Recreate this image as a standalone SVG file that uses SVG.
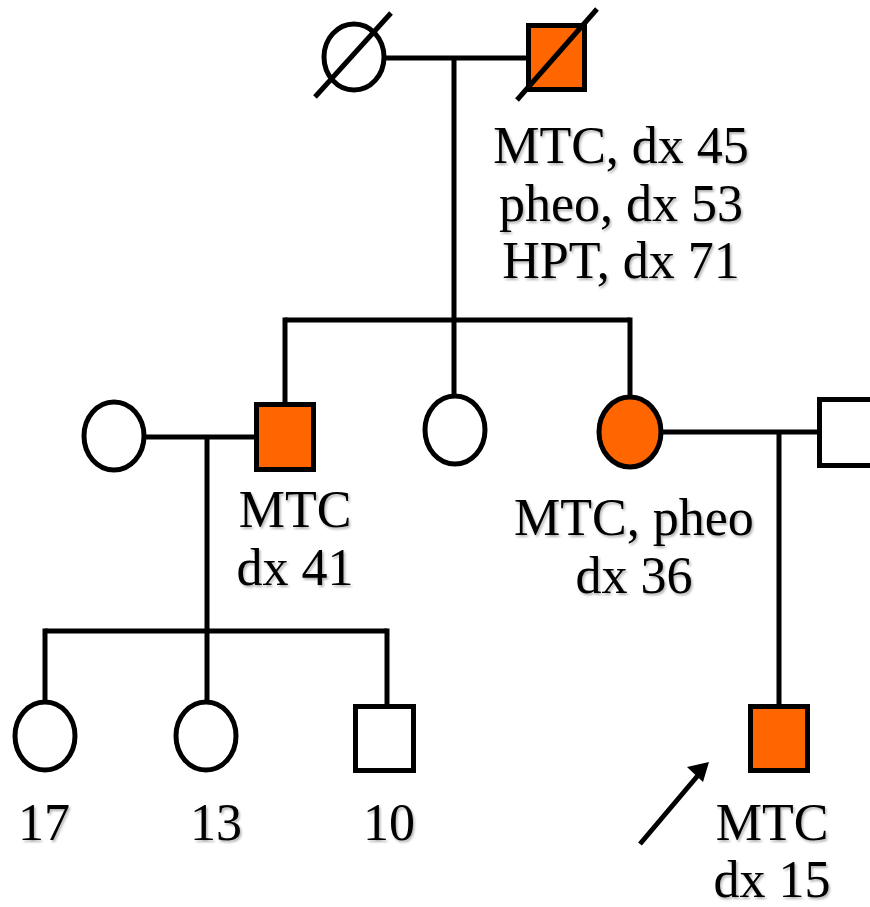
<svg xmlns="http://www.w3.org/2000/svg" width="870" height="907" viewBox="0 0 870 907">
<defs>
<filter id="sh" x="-10%" y="-10%" width="120%" height="130%">
<feDropShadow dx="1.5" dy="2" stdDeviation="1" flood-color="#000" flood-opacity="0.3"/>
</filter>
</defs>
<style>
.n{fill:#fff;stroke:#000;stroke-width:5}
.a{fill:#FF6600;stroke:#000;stroke-width:5}
.c{fill:none;stroke:#000;stroke-width:5}
.t{font-family:"Liberation Serif","Times New Roman",serif;font-size:52px;fill:#000;text-anchor:middle;filter:url(#sh)}
</style>
<rect width="870" height="907" fill="#fff"/>
<g id="connectors">
<line class="c" x1="386" y1="58" x2="526" y2="58"/>
<line class="c" x1="454" y1="58" x2="454" y2="396"/>
<line class="c" x1="285" y1="320" x2="630" y2="320"/>
<line class="c" x1="285" y1="317.5" x2="285" y2="404"/>
<line class="c" x1="630" y1="317.5" x2="630" y2="397"/>
<line class="c" x1="146" y1="437" x2="254" y2="437"/>
<line class="c" x1="207" y1="437" x2="207" y2="631"/>
<line class="c" x1="45" y1="631" x2="387" y2="631"/>
<line class="c" x1="45" y1="628.5" x2="45" y2="700"/>
<line class="c" x1="207" y1="631" x2="207" y2="700"/>
<line class="c" x1="387" y1="628.5" x2="387" y2="704"/>
<line class="c" x1="663" y1="432" x2="817" y2="432"/>
<line class="c" x1="779" y1="432" x2="779" y2="704"/>
</g>
<g id="grandmother">
<ellipse class="n" cx="354" cy="57" rx="30" ry="33"/>
<line class="c" x1="315" y1="97" x2="391" y2="13"/>
</g>
<g id="grandfather">
<rect class="a" x="528.5" y="25.5" width="56" height="64"/>
<line class="c" x1="517" y1="100" x2="597" y2="9"/>
<text class="t" x="621" y="163">MTC, dx 45</text>
<text class="t" x="621" y="221">pheo, dx 53</text>
<text class="t" x="621" y="278">HPT, dx 71</text>
</g>
<g id="son-spouse">
<ellipse class="n" cx="114" cy="436" rx="30" ry="34"/>
</g>
<g id="son">
<rect class="a" x="256.5" y="404.5" width="57" height="65"/>
<text class="t" x="295" y="527">MTC</text>
<text class="t" x="295" y="585">dx 41</text>
</g>
<g id="daughter">
<ellipse class="n" cx="455" cy="430" rx="30" ry="34"/>
</g>
<g id="affected-daughter">
<ellipse class="a" cx="630" cy="432" rx="31" ry="35"/>
<text class="t" x="634" y="535">MTC, pheo</text>
<text class="t" x="634" y="593">dx 36</text>
</g>
<g id="daughter-spouse">
<rect class="n" x="819.5" y="399.5" width="57" height="66"/>
</g>
<g id="grandchild-17">
<ellipse class="n" cx="45" cy="736" rx="30" ry="34"/>
<text class="t" x="44" y="840">17</text>
</g>
<g id="grandchild-13">
<ellipse class="n" cx="206" cy="736" rx="30" ry="34"/>
<text class="t" x="216" y="840">13</text>
</g>
<g id="grandchild-10">
<rect class="n" x="355.5" y="706.5" width="58" height="64"/>
<text class="t" x="389" y="840">10</text>
</g>
<g id="proband">
<rect class="a" x="750.5" y="706.5" width="57" height="64"/>
<text class="t" x="772" y="840">MTC</text>
<text class="t" x="772" y="897">dx 15</text>
<line class="c" x1="640" y1="844" x2="700" y2="773"/>
<polygon points="709,762 687,767 703,782" fill="#000"/>
</g>
</svg>
